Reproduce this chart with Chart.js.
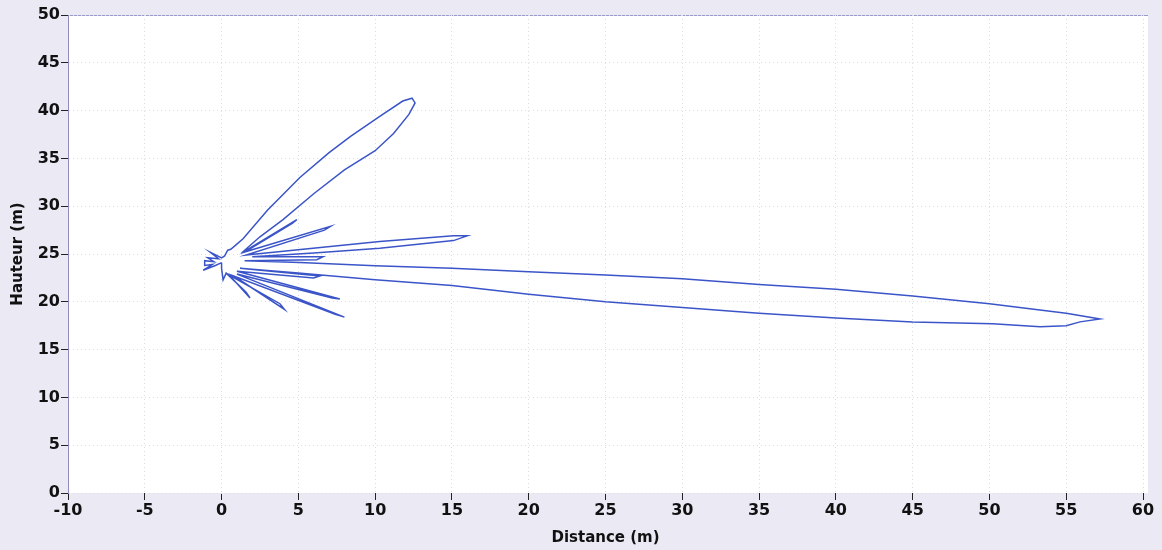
<!DOCTYPE html>
<html>
<head>
<meta charset="utf-8">
<script src="https://cdn.jsdelivr.net/npm/chart.js@4/dist/chart.umd.min.js"></script>
<style>
  html, body { margin: 0; padding: 0; background: #ebe9f4; }
  canvas { display: block; }
</style>
</head>
<body>
<canvas id="chart" width="1162" height="550"></canvas>
<script>
// Outline of the radiation pattern (metres)
const distance = [
  0.0, -0.4, -1.2, -0.6, -1.1, -1.1, -0.5, -0.9, -0.2, -0.75, 0.0, 0.2, 0.4, 0.6, 0.9,
  1.4, 3.0, 5.1, 7.0, 8.4, 10.3, 11.8, 12.4, 12.6, 12.2, 11.2, 10.0, 8.0, 6.0, 4.0, 2.5, 1.3,
  4.9, 4.6, 1.5,
  7.1, 6.7, 1.6,
  10.3, 15.1, 16.0, 15.1, 10.3, 6.0, 2.0,
  6.6, 6.2, 1.5,
  5.1, 10, 15, 20, 25, 30, 35, 40, 45, 50, 55, 57.2, 55.9, 55, 53.3, 50.2, 45, 40, 35, 30, 25, 20, 15, 10, 5, 1.2,
  6.4, 6.0, 1.0,
  7.7, 7.2, 1.0,
  8.0, 7.4, 0.8,
  4.1, 3.8, 0.5,
  1.85, 1.6, 0.3,
  0.1, 0.0, 0.0
];
const hauteur = [
  24.1, 23.8, 23.3, 23.9, 23.8, 24.3, 24.2, 24.6, 24.5, 25.2, 24.6, 24.8, 25.4, 25.5, 25.9,
  26.6, 29.6, 33.0, 35.6, 37.3, 39.4, 41.0, 41.3, 40.8, 39.6, 37.6, 35.8, 33.8, 31.3, 28.6, 26.8, 25.1,
  28.6, 28.2, 25.2,
  27.9, 27.5, 24.9,
  26.3, 26.9, 26.9, 26.4, 25.6, 25.1, 24.7,
  24.7, 24.4, 24.3,
  24.1, 23.78, 23.5, 23.15, 22.8, 22.4, 21.8, 21.3, 20.6, 19.8, 18.8, 18.2, 17.9, 17.5, 17.4, 17.7, 17.9, 18.3, 18.8, 19.4, 20.0, 20.8, 21.7, 22.3, 23.0, 23.5,
  22.7, 22.5, 23.2,
  20.3, 20.4, 22.9,
  18.4, 18.7, 22.7,
  19.2, 19.8, 22.8,
  20.4, 21.0, 23.0,
  22.3, 23.5, 24.1
];
const xRange = [-10, 60];
const yRange = [0, 50];

const points = distance.map((x, i) => ({ x: x, y: hauteur[i] }));

const plotBg = {
  id: "plotBg",
  beforeDraw(chart) {
    const { ctx, chartArea: a } = chart;
    ctx.save();
    ctx.fillStyle = "#ffffff";
    ctx.fillRect(a.left, a.top, a.right - a.left + 5, a.bottom - a.top);
    ctx.strokeStyle = "#9c9ac8";
    ctx.lineWidth = 1;
    ctx.beginPath();
    ctx.moveTo(a.left, a.top + 0.5);
    ctx.lineTo(a.right + 5, a.top + 0.5);
    ctx.stroke();
    ctx.restore();
  }
};

const tickFont = { family: "'DejaVu Sans', sans-serif", size: 16, weight: "bold" };
const titleFont = { family: "'DejaVu Sans', sans-serif", size: 15, weight: "bold" };

new Chart(document.getElementById("chart"), {
  type: "scatter",
  data: {
    datasets: [{
      data: points,
      showLine: true,
      borderColor: "#3b55c9",
      borderWidth: 1.5,
      pointRadius: 0,
      tension: 0
    }]
  },
  options: {
    responsive: false,
    animation: false,
    layout: { padding: { top: 15, right: 19 } },
    plugins: { legend: { display: false }, tooltip: { enabled: false } },
    scales: {
      x: {
        type: "linear",
        min: xRange[0], max: xRange[1],
        ticks: { stepSize: 5, color: "#111", font: tickFont, padding: 1, maxRotation: 0 },
        grid: { color: "#dcdce6", tickColor: "#222", tickLength: 7, tickWidth: 1 },
        border: { display: false, dash: [1, 3] },
        title: { display: true, text: "Distance (m)", color: "#111", font: titleFont, padding: { top: 0, bottom: 3 } },
        afterFit(s) { s.height = 57; }
      },
      y: {
        type: "linear",
        min: yRange[0], max: yRange[1],
        ticks: { stepSize: 5, color: "#111", font: tickFont, padding: 1 },
        grid: { color: "#dcdce6", tickColor: "#222", tickLength: 7, tickWidth: 1 },
        border: { display: true, color: "#8e8cb8", width: 1, dash: [1, 3] },
        title: { display: true, text: "Hauteur (m)", color: "#111", font: titleFont, padding: { top: 9, bottom: 0 } },
        afterFit(s) { s.width = 68; }
      }
    }
  },
  plugins: [plotBg]
});
</script>
</body>
</html>
